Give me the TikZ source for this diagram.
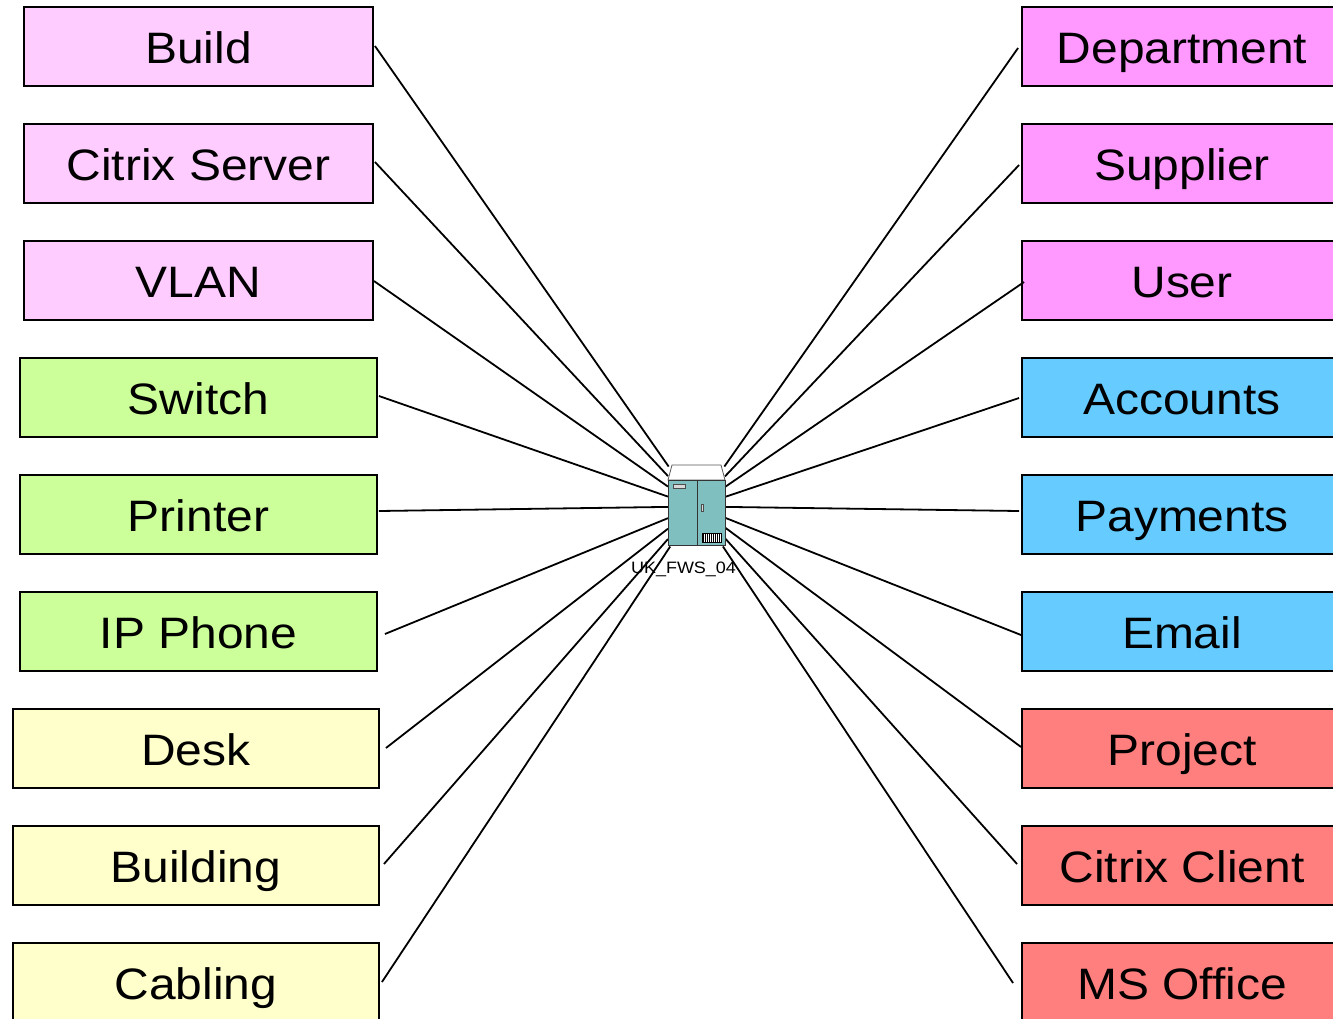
\documentclass[tikz,border=0pt]{standalone}
\usepackage{fontspec}
\setmainfont{Liberation Sans}
\usepackage{graphicx}
\definecolor{cpink}{HTML}{FFCCFF}
\definecolor{cgreen}{HTML}{CCFF99}
\definecolor{cyellow}{HTML}{FFFFCC}
\definecolor{cmag}{HTML}{FF99FF}
\definecolor{cblue}{HTML}{66CCFF}
\definecolor{cred}{HTML}{FF7F7F}
\definecolor{cteal}{HTML}{7FBFBF}
\newcommand\wide[1]{\scalebox{1.09}[1]{#1}}
\tikzset{
  box/.style={draw=black, line width=1.9pt, minimum height=79pt, inner sep=0pt,
    font=\fontsize{44}{44}\selectfont, text height=40pt, text depth=7pt},
  link/.style={line width=1.8pt},
}
\begin{document}
\begin{tikzpicture}[x=1pt,y=-1pt]
\useasboundingbox (0,0) rectangle (1333,1018);
\clip (0,0) rectangle (1333,1018);
% left column
\node[box, fill=cpink, minimum width=349pt] (build) at (198.5,46.5) {\wide{Build}};
\node[box, fill=cpink, minimum width=349pt] (citsrv) at (198.5,163.5) {\wide{Citrix Server}};
\node[box, fill=cpink, minimum width=349pt] (vlan) at (198.5,280.5) {\wide{VLAN}};
\node[box, fill=cgreen, minimum width=357pt] (switch) at (198.5,397.5) {\wide{Switch}};
\node[box, fill=cgreen, minimum width=357pt] (printer) at (198.5,514.5) {\wide{Printer}};
\node[box, fill=cgreen, minimum width=357pt] (ipphone) at (198.5,631.5) {\wide{IP Phone}};
\node[box, fill=cyellow, minimum width=366pt] (desk) at (196,748.5) {\wide{Desk}};
\node[box, fill=cyellow, minimum width=366pt] (building) at (196,865.5) {\wide{Building}};
\node[box, fill=cyellow, minimum width=366pt] (cabling) at (196,982.5) {\wide{Cabling}};
% right column
\node[box, fill=cmag, minimum width=320pt] (dept) at (1182,46.5) {\wide{Department}};
\node[box, fill=cmag, minimum width=320pt] (supplier) at (1182,163.5) {\wide{Supplier}};
\node[box, fill=cmag, minimum width=320pt] (user) at (1182,280.5) {\wide{User}};
\node[box, fill=cblue, minimum width=320pt] (accounts) at (1182,397.5) {\wide{Accounts}};
\node[box, fill=cblue, minimum width=320pt] (payments) at (1182,514.5) {\wide{Payments}};
\node[box, fill=cblue, minimum width=320pt] (email) at (1182,631.5) {\wide{Email}};
\node[box, fill=cred, minimum width=320pt] (project) at (1182,748.5) {\wide{Project}};
\node[box, fill=cred, minimum width=320pt] (citcli) at (1182,865.5) {\wide{Citrix Client}};
\node[box, fill=cred, minimum width=320pt] (msoffice) at (1182,982.5) {\wide{MS Office}};
% server node (border used to clip connectors)
\node[minimum width=57pt, minimum height=80pt, inner sep=0pt, outer sep=0pt] (srv) at (696.5,506.5) {};
% connectors
\draw[link] ([xshift=1pt,yshift=0.5pt]build.east) -- (srv);
\draw[link] ([xshift=1pt,yshift=1.5pt]citsrv.east) -- (srv);
\draw[link] ([yshift=-0.5pt]vlan.east) -- (srv);
\draw[link] ([xshift=1pt,yshift=1.5pt]switch.east) -- (srv);
\draw[link] ([xshift=1pt,yshift=3.5pt]printer.east) -- (srv);
\draw[link] ([xshift=7pt,yshift=-2.5pt]ipphone.east) -- (srv);
\draw[link] ([xshift=6pt,yshift=0.5pt]desk.east) -- (srv);
\draw[link] ([xshift=4pt,yshift=1.5pt]building.east) -- (srv);
\draw[link] ([xshift=2pt,yshift=0.5pt]cabling.east) -- (srv);
\draw[link] ([xshift=-3pt,yshift=-1.5pt]dept.west) -- (srv);
\draw[link] ([xshift=-2pt,yshift=-1.5pt]supplier.west) -- (srv);
\draw[link] ([xshift=3pt,yshift=-1.5pt]user.west) -- (srv);
\draw[link] ([xshift=-2pt,yshift=-0.5pt]accounts.west) -- (srv);
\draw[link] ([xshift=-2pt,yshift=3.5pt]payments.west) -- (srv);
\draw[link] ([yshift=-3.5pt]email.west) -- (srv);
\draw[link] ([yshift=1.5pt]project.west) -- (srv);
\draw[link] ([xshift=-4pt,yshift=1.5pt]citcli.west) -- (srv);
\draw[link] ([xshift=-8pt,yshift=-0.5pt]msoffice.west) -- (srv);
% server icon
\filldraw[fill=white, draw=gray!70!black, line width=0.8pt] (672,465) -- (721,465) -- (725,480) -- (668,480) -- cycle;
\filldraw[fill=cteal, draw=black!80, line width=1pt] (668,480) rectangle (725,545);
\draw[black!80, line width=0.9pt] (697,480) -- (697,545);
\filldraw[fill=gray!30, draw=black!70, line width=0.6pt] (673,484.5) rectangle (685,488.5);
\filldraw[fill=gray!30, draw=black!70, line width=0.5pt] (701,504.5) rectangle (703.5,511);
\filldraw[fill=white, draw=black, line width=0.6pt] (702,533) rectangle (721,542);
\foreach \i in {0,...,8} { \draw[line width=0.9pt] (703.5+2*\i,533) -- (703.5+2*\i,542); }
\node[font=\fontsize{16.5}{16.5}\selectfont, anchor=base, inner sep=0pt] (srvlabel) at (683.5,573) {\wide{UK\_FWS\_04}};
\end{tikzpicture}
\end{document}
